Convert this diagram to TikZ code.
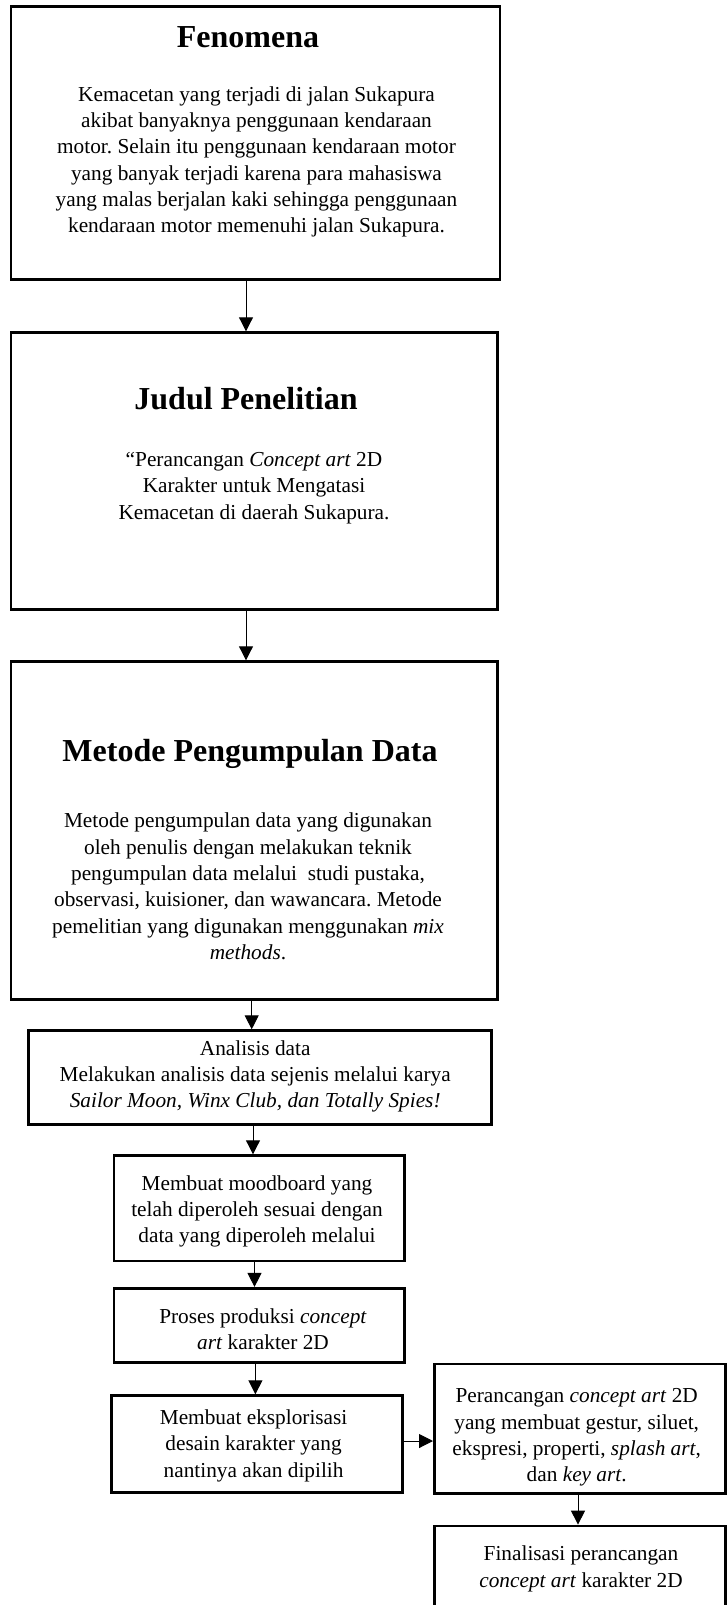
\documentclass[tikz,border=0pt]{standalone}
\usepackage{fontspec}
\setmainfont{Liberation Serif}
\usetikzlibrary{arrows.meta}
\frenchspacing

\begin{document}
\begin{tikzpicture}[x=1pt,y=-1pt,
  kotak/.style={draw=black,line width=2.8pt,inner sep=0pt},
  isi/.style={align=center,inner sep=0pt,font=\fontsize{21.3}{26.3}\selectfont},
  kepala/.style={anchor=base,inner sep=0pt,font=\fontsize{32}{38}\selectfont\bfseries},
  panah/.style={line width=1pt,-{Triangle[width=14pt,length=14pt]}}]
\clip (0,0) rectangle (727,1605);

\node[kotak,minimum width=489pt,minimum height=272.6pt] (fenomena) at (255.5,143.15) {};
\node[kotak,minimum width=486.5pt,minimum height=276.6pt] (judul) at (254.25,471) {};
\node[kotak,minimum width=486.5pt,minimum height=337.6pt] (metode) at (254.25,830.5) {};
\node[kotak,minimum width=462.7pt,minimum height=93.6pt] (analisis) at (260.05,1077.5) {};
\node[kotak,minimum width=290.7pt,minimum height=105.3pt] (moodboard) at (259.35,1208.35) {};
\node[kotak,minimum width=290.7pt,minimum height=74pt] (produksi) at (259.35,1325.3) {};
\node[kotak,minimum width=291.1pt,minimum height=96.6pt] (eksplorasi) at (256.85,1444) {};
\node[kotak,minimum width=291.1pt,minimum height=129.7pt] (perancangan) at (579.95,1428.85) {};
\node[kotak,minimum width=291.1pt,minimum height=100pt] (finalisasi) at (579.95,1576) {};

\node[kepala] (fenomenaJdl) at (248,48) {Fenomena};
\node[isi] (fenomenaIsi) at (256.5,162) {Kemacetan yang terjadi di jalan Sukapura\\ akibat banyaknya penggunaan kendaraan\\ motor. Selain itu penggunaan kendaraan motor\\ yang banyak terjadi karena para mahasiswa\\ yang malas berjalan kaki sehingga penggunaan\\ kendaraan motor memenuhi jalan Sukapura.};
\node[kepala] (judulJdl) at (246,409) {Judul Penelitian};
\node[isi] (judulIsi) at (254,488) {“Perancangan \textit{Concept art} 2D\\ Karakter untuk Mengatasi\\ Kemacetan di daerah Sukapura.};
\node[kepala] (metodeJdl) at (250,761.7) {Metode Pengumpulan Data};
\node[isi] (metodeIsi) at (248,886.5) {Metode pengumpulan data yang digunakan\\ oleh penulis dengan melakukan teknik\\ pengumpulan data melalui\ \ studi pustaka,\\ observasi, kuisioner, dan wawancara. Metode\\ pemelitian yang digunakan menggunakan \textit{mix}\\ \textit{methods}.};
\node[isi] (analisisIsi) at (255.2,1076.3) {Analisis data\\ Melakukan analisis data sejenis melalui karya\\ \textit{Sailor Moon, Winx Club, dan Totally Spies!}};
\node[isi] (moodboardIsi) at (257,1211.5) {Membuat moodboard yang\\ telah diperoleh sesuai dengan\\ data yang diperoleh melalui};
\node[isi] (produksiIsi) at (263,1329) {Proses produksi \textit{concept}\\ \textit{art} karakter 2D};
\node[isi] (eksplorasiIsi) at (253.6,1445.8) {Membuat eksplorisasi\\ desain karakter yang\\ nantinya akan dipilih};
\node[isi] (perancanganIsi) at (576.7,1437.4) {Perancangan \textit{concept art} 2D\\ yang membuat gestur, siluet,\\ ekspresi, properti, \textit{splash art},\\ dan \textit{key art}.};
\node[isi] (finalisasiIsi) at (581,1569) {Finalisasi perancangan\\ \textit{concept art} karakter 2D};

\draw[panah] ([xshift=-9.5pt]fenomena.south) -- ([xshift=-8.25pt]judul.north);
\draw[panah] ([xshift=-8.25pt]judul.south) -- ([xshift=-8.25pt]metode.north);
\draw[panah] ([xshift=-2.55pt]metode.south) -- ([xshift=-8.35pt]analisis.north);
\draw[panah] ([xshift=-7.05pt]analisis.south) -- ([xshift=-6.35pt]moodboard.north);
\draw[panah] ([xshift=-4.85pt]moodboard.south) -- ([xshift=-4.85pt]produksi.north);
\draw[panah] ([xshift=-3.95pt]produksi.south) -- ([xshift=-1.45pt]eksplorasi.north);
\draw[panah] ([yshift=3pt]eksplorasi.east) -- ([yshift=-12.15pt]perancangan.west);
\draw[panah] ([xshift=-1.95pt]perancangan.south) -- ([xshift=-1.95pt]finalisasi.north);
\end{tikzpicture}
\end{document}
